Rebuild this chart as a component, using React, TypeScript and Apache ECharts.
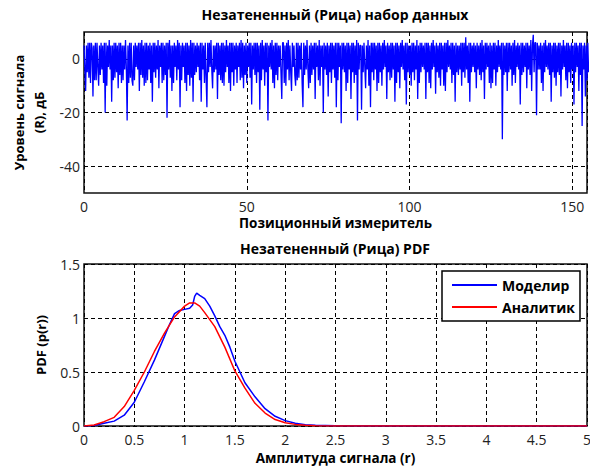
import React, { useEffect, useRef } from 'react';
import * as echarts from 'echarts';

const FONT = '"Open Sans", "DejaVu Sans", sans-serif';

const topTitle = 'Незатененный (Рица) набор данных';
const bottomTitle = 'Незатененный (Рица) PDF';
const topYName = 'Уровень сигнала\n(R), дБ';
const topXName = 'Позиционный измеритель';
const bottomYName = 'PDF (p(r))';
const bottomXName = 'Амплитуда сигнала (r)';
const simName = 'Моделир';
const anaName = 'Аналитик';

// position step of the signal samples
const sampleStep = 0.25;

const signalA = [
  5, -3, -12, 5, -5, 6, -7, 6, -9, 6, 4, -14, 5, -8, 6, -8, 6, -3, -10, 5,
  -6, 6, -4, 5, -9, 6, -20, 6, -10, 5, -3, 7, -4, 5, -16, 5, -8, 6, -7, 6,
  -5, 5, -11, 6, -6, 6, -9, 5, -8, 5, -4, 7, -3, -23, 5, -9, 6, -7, 6, -8,
  -10, 5, -8, 6, -3, 5, -4, 6, -12, 6, -6, 7, -7, 5, -10, 6, -9, 6, -8, 5,
];
const signalB = [
  -4, 6, -9, 5, -16, 6, -5, 6, -7, 5, -4, 7, -11, 5, -3, 6, -9, 6, -8, 5,
  -6, 6, -22, 6, -4, 7, -7, 5, -12, 5, -9, 6, -3, 5, -8, 7, -4, 6, -18, 5,
  -8, 6, -3, 5, -9, 6, -12, 6, -6, 5, -10, 7, -7, 6, -16, 6, -6, 5, -5, 6,
  -3, 5, -8, 6, -16, 6, -4, 5, -9, 6, -7, -18, 6, -5, 6, -3, 7, -4, -11, 5,
];
const signalC = [
  -5, 5, -4, 6, -15, 6, -6, 5, -8, 6, -9, 6, -10, 5, -5, 7, -3, 5, -9, 6,
  -12, 6, -5, 6, -10, 5, -4, 6, -9, 5, -3, 6, -8, 7, -7, 6, -11, 5, -6, 6,
  -9, 5, -3, 6, -7, 6, -17, 5, -4, 6, -6, 6, -9, 6, -5, 5, -19, 6, -8, 7,
  -4, 5, -10, 6, -5, 6, -23, 5, -3, 6, -4, 7, -9, 5, -11, 6, -6, 6, -8, 5,
];
const signalD = [
  -3, 5, -5, -15, 6, 6, -9, 5, -10, 6, -4, 7, -8, 5, -5, -12, 6, -3, 5, -6,
  -10, 6, -8, 6, -7, 5, -4, 6, -9, -18, 6, -6, 5, -4, 7, -3, -11, 5, -9, 6,
  -6, 5, -4, 6, -15, 6, -3, 5, -8, 7, -10, 5, -3, 5, -20, 6, -4, 5, -6, 6,
  -14, 5, -5, 6, -9, 6, -4, 5, -7, 6, -18, 6, -8, 6, -3, 5, -24, 6, -4, 6,
];
const signalE = [
  -5, 5, -12, 6, -9, 6, -4, 5, -15, 6, -5, 6, -9, 5, -6, 7, -23, 6, -4, 5,
  5, -19, 5, -5, 6, -3, -11, 5, -4, 7, -10, 5, -18, 6, -5, 6, -8, 6, -4, 5,
  -12, 6, -9, 6, -5, 5, -10, 6, -4, 7, -3, 5, -15, 6, -5, 5, -8, 6, -7, 6,
  -4, 5, -16, 6, -9, 6, -5, 5, -11, 6, -3, 7, -4, 5, -8, 6, -17, 6, -5, 5,
];
const signalF = [
  -6, 5, -10, 6, -5, 6, -8, 5, -4, 7, -15, 5, -9, 6, -5, 6, -3, 5, -4, 6,
  -15, 6, -5, 6, -9, 5, -11, 6, -4, 7, -3, 5, -13, 6, -5, 5, -7, 6, -10, 6,
  -4, 5, -10, 6, -12, 6, -5, 7, -3, 5, -4, 6, -9, 6, -6, 5, -16, 6, -5, 5,
  -6, 5, -4, 6, -10, 6, -5, 6, -7, 8, -4, 5, -9, 6, -16, 6, -5, 5, -3, 6,
];
const signalG = [
  -5, 5, -11, 6, -4, 5, -6, 6, -8, 7, -5, 5, -15, 6, -4, 6, -3, 5, -9, 6,
  -11, 5, -9, 6, -4, 6, -10, 5, -5, 7, -3, 5, -4, 6, -30, 6, -6, 5, -5, 6,
  -12, 6, -5, 6, -4, 5, -10, 6, -6, 7, -9, 5, -3, 6, -4, 5, -17, 6, -6, 6,
  -5, 5, -3, 6, -11, 6, -4, 5, -6, 7, -12, 5, 9, -5, 6, 6, -21, 6, -4, 5,
];
const signalH = [
  -4, 6, -9, 5, -12, 6, -5, 7, -3, 5, -4, 6, -6, 6, -16, 5, -5, 6, -7, 6,
  -10, 5, -5, 6, -6, 6, -14, 5, -4, 7, -3, 5, -8, 6, -11, 6, -5, 5, -9, 6,
  -4, 5, -17, 6, -5, 6, -3, 5, -12, 6, -6, 6, -25, 5, -4, 6, -14, 5, -8, 6,
  -5,
];
const signal = [
  ...signalA, ...signalB, ...signalC, ...signalD,
  ...signalE, ...signalF, ...signalG, ...signalH,
];

// simulated PDF (blue)
const simX = [0, 0.1, 0.2, 0.3, 0.4, 0.5, 0.6, 0.7, 0.8, 0.85, 0.9, 0.95, 1.0, 1.05, 1.08, 1.1, 1.12, 1.15, 1.2, 1.25, 1.3, 1.35, 1.4, 1.45, 1.5, 1.6, 1.7, 1.8, 1.9, 2.0, 2.1, 2.2, 2.3, 2.5, 2.7, 3, 5];
const simY = [0, 0.005, 0.025, 0.045, 0.1, 0.22, 0.41, 0.61, 0.83, 0.94, 1.04, 1.07, 1.08, 1.09, 1.12, 1.2, 1.23, 1.21, 1.18, 1.11, 1.02, 0.92, 0.84, 0.73, 0.6, 0.4, 0.27, 0.16, 0.09, 0.05, 0.025, 0.012, 0.006, 0.002, 0, 0, 0];

// analytic PDF (red)
const anaX = [0, 0.1, 0.2, 0.3, 0.4, 0.5, 0.6, 0.7, 0.8, 0.9, 1.0, 1.05, 1.1, 1.15, 1.2, 1.3, 1.4, 1.5, 1.6, 1.7, 1.8, 1.9, 2.0, 2.1, 2.2, 2.3, 2.5, 3, 4, 5];
const anaY = [0, 0.01, 0.04, 0.08, 0.18, 0.33, 0.5, 0.69, 0.86, 1.01, 1.11, 1.14, 1.14, 1.11, 1.05, 0.92, 0.73, 0.51, 0.35, 0.21, 0.12, 0.06, 0.03, 0.015, 0.007, 0.003, 0.001, 0, 0, 0];

const topXMax = 154.5;
const topYLabels = [-40, -20, 0];

const titleStyle = { fontFamily: FONT, fontSize: 14, fontWeight: 'bold', color: '#000' };
const xNameStyle = { fontFamily: FONT, fontSize: 13.5, fontWeight: 'bold', color: '#000', lineHeight: 16 };
const yNameStyle = { fontFamily: FONT, fontSize: 13, fontWeight: 'bold', color: '#000' };
const labelStyle = { fontFamily: FONT, fontSize: 14, color: '#222', lineHeight: 14 };
const dash = { color: '#000', type: [4, 3], width: 1 };

export default function App() {
  const ref = useRef<HTMLDivElement>(null);
  useEffect(() => {
    if (!ref.current) return;
    const chart = echarts.init(ref.current, undefined, { renderer: 'svg' });
    const option: any = {
      animation: false,
      backgroundColor: '#fff',
      title: [
        { text: topTitle, left: 330, top: 2, textAlign: 'center', textStyle: titleStyle },
        { text: bottomTitle, left: 330, top: 236, textAlign: 'center', textStyle: titleStyle },
      ],
      legend: {
        data: [simName, anaName],
        orient: 'vertical',
        left: 442,
        top: 271,
        icon: 'rect',
        itemWidth: 45,
        itemHeight: 2,
        itemGap: 6,
        padding: [6, 5, 6, 10],
        backgroundColor: '#fff',
        borderColor: '#000',
        borderWidth: 1.5,
        textStyle: { fontFamily: FONT, fontSize: 14, fontWeight: 'bold', color: '#000', lineHeight: 16 },
      },
      grid: [
        { left: 84, top: 32, width: 503, height: 161, show: true, borderColor: '#111', borderWidth: 1.5, containLabel: false, outerBoundsMode: 'none' },
        { left: 84, top: 264, width: 503, height: 162, show: true, borderColor: '#111', borderWidth: 1.5, containLabel: false, outerBoundsMode: 'none' },
      ],
      xAxis: [
        {
          type: 'value', gridIndex: 0, min: 0, max: topXMax, interval: 50,
          name: topXName, nameLocation: 'middle', nameGap: 22, nameTextStyle: xNameStyle,
          axisLine: { show: false }, axisTick: { show: false },
          axisLabel: { ...labelStyle, margin: 6, formatter: (v: number) => (v % 50 === 0 ? String(v) : '') },
          splitLine: { show: true, lineStyle: dash },
        },
        {
          type: 'value', gridIndex: 1, min: 0, max: 5, interval: 0.5,
          name: bottomXName, nameLocation: 'middle', nameGap: 24, nameTextStyle: xNameStyle,
          axisLine: { show: false }, axisTick: { show: false },
          axisLabel: { ...labelStyle, margin: 6 },
          splitLine: { show: true, lineStyle: dash },
        },
      ],
      yAxis: [
        {
          type: 'value', gridIndex: 0, min: -50, max: 10, interval: 10,
          name: topYName, nameLocation: 'middle', nameGap: 32,
          nameTextStyle: { ...yNameStyle, lineHeight: 20 },
          axisLine: { show: false }, axisTick: { show: false },
          axisLabel: { ...labelStyle, margin: 4, formatter: (v: number) => (topYLabels.includes(v) ? String(v) : '') },
          splitLine: { show: true, lineStyle: { ...dash, color: ['transparent', '#000'] } },
        },
        {
          type: 'value', gridIndex: 1, min: 0, max: 1.5, interval: 0.5,
          name: bottomYName, nameLocation: 'middle', nameGap: 32,
          nameTextStyle: { ...yNameStyle, lineHeight: 16 },
          axisLine: { show: false }, axisTick: { show: false },
          axisLabel: { ...labelStyle, margin: 4 },
          splitLine: { show: true, lineStyle: dash },
        },
      ],
      series: [
        {
          name: 'signal', type: 'line', xAxisIndex: 0, yAxisIndex: 0,
          data: signal.map((v, i) => [i * sampleStep, v]),
          showSymbol: false, symbol: 'none',
          color: '#0000ff', lineStyle: { color: '#0000ff', width: 1.3 },
          z: 3,
        },
        {
          name: simName, type: 'line', xAxisIndex: 1, yAxisIndex: 1,
          data: simX.map((x, i) => [x, simY[i]]),
          showSymbol: false, symbol: 'none',
          color: '#0000ff', lineStyle: { color: '#0000ff', width: 1.5 },
          z: 3,
        },
        {
          name: anaName, type: 'line', xAxisIndex: 1, yAxisIndex: 1,
          data: anaX.map((x, i) => [x, anaY[i]]),
          showSymbol: false, symbol: 'none',
          color: '#ff0000', lineStyle: { color: '#ff0000', width: 1.5 },
          z: 3,
        },
      ],
    };
    chart.setOption(option);
    return () => chart.dispose();
  }, []);
  return <div ref={ref} style={{ position: 'fixed', left: 0, top: 0, width: 590, height: 470 }} />;
}
